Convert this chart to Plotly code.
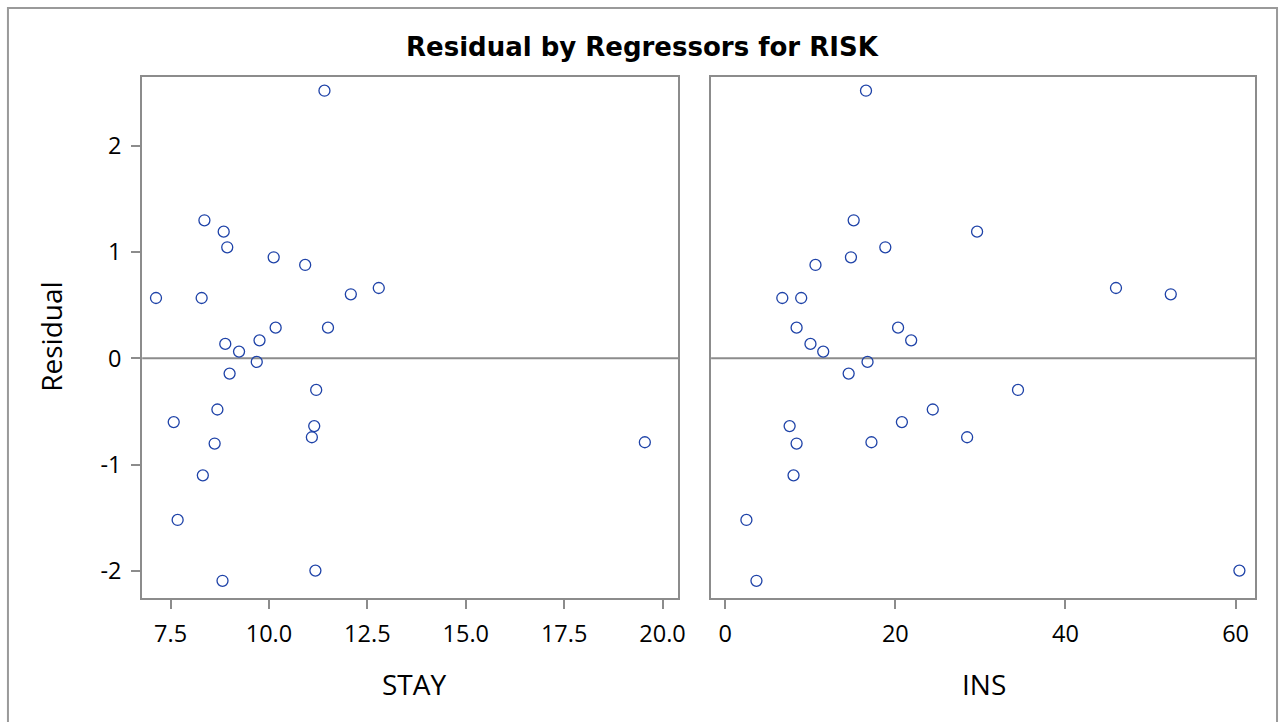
import plotly.graph_objects as go

# Data
residual = [2.517, 1.298, 1.191, 1.044, 0.950, 0.878, 0.567, 0.567, 0.602, 0.661,
            0.288, 0.288, 0.135, 0.063, 0.169, -0.034, -0.144, -0.298, -0.482, -0.600,
            -0.638, -0.743, -0.802, -0.790, -1.101, -1.521, -2.093, -1.997]
stay = [11.41, 8.36, 8.85, 8.94, 10.12, 10.92, 7.13, 8.29, 12.08, 12.79,
        10.17, 11.50, 8.89, 9.24, 9.76, 9.69, 9.00, 11.20, 8.69, 7.58,
        11.15, 11.09, 8.62, 19.55, 8.32, 7.68, 8.82, 11.18]
ins = [16.55, 15.10, 29.61, 18.82, 14.78, 10.61, 6.71, 8.93, 52.38, 45.94,
       8.39, 20.32, 10.02, 11.52, 21.86, 16.73, 14.51, 34.42, 24.40, 20.77,
       7.57, 28.44, 8.39, 17.19, 8.03, 2.49, 3.67, 60.45]

stay_ticks = [7.5, 10.0, 12.5, 15.0, 17.5, 20.0]
stay_ticktext = ["7.5", "10.0", "12.5", "15.0", "17.5", "20.0"]
ins_ticks = [0, 20, 40, 60]
ins_ticktext = ["0", "20", "40", "60"]
res_ticks = [-2, -1, 0, 1, 2]
res_ticktext = ["-2", "-1", "0", "1", "2"]

title_text = "Residual by Regressors for RISK"
ylabel = "Residual"
xlabels = ["STAY", "INS"]

W, H = 1288, 722
FONT = "Open Sans"
GRAY = "#8c8c8c"
MARKER = "#1f43a8"

def px_x(p):
    return p / W

def px_y(p):
    return 1 - p / H

fig = go.Figure()
marker = dict(symbol="circle-open", size=11, color=MARKER, line=dict(width=1.3, color=MARKER))
fig.add_trace(go.Scatter(x=stay, y=residual, mode="markers", marker=marker,
                         xaxis="x", yaxis="y", showlegend=False))
fig.add_trace(go.Scatter(x=ins, y=residual, mode="markers", marker=marker,
                         xaxis="x2", yaxis="y2", showlegend=False))

axis_common = dict(showline=True, linecolor=GRAY, linewidth=2, mirror=True,
                   ticks="outside", ticklen=9, tickwidth=2, tickcolor=GRAY,
                   showgrid=False, zeroline=False, ticklabelstandoff=5,
                   tickfont=dict(family=FONT, size=23.5, color="black"))

y_dom = [px_y(598), px_y(77)]
fig.update_layout(
    width=W, height=H,
    margin=dict(l=0, r=0, t=0, b=0),
    paper_bgcolor="white", plot_bgcolor="white",
    xaxis=dict(domain=[px_x(143), px_x(682)], range=[6.78, 20.40],
               tickvals=stay_ticks, ticktext=stay_ticktext, anchor="y", **axis_common),
    xaxis2=dict(domain=[px_x(715), px_x(1262)], range=[-1.66, 62.3],
                tickvals=ins_ticks, ticktext=ins_ticktext, anchor="y2", **axis_common),
    yaxis=dict(domain=y_dom, range=[-2.255, 2.646], tickvals=res_ticks,
               ticktext=res_ticktext, anchor="x", **axis_common),
    yaxis2=dict(domain=y_dom, range=[-2.255, 2.646], tickvals=res_ticks,
                showticklabels=False, ticks="", anchor="x2", matches="y",
                showline=True, linecolor=GRAY, linewidth=2, mirror=True,
                showgrid=False, zeroline=False),
)

shapes = []
# zero reference lines
for xr, yr in (("x domain", "y"), ("x2 domain", "y2")):
    shapes.append(dict(type="line", xref=xr, yref=yr, x0=0, x1=1, y0=0, y1=0,
                       line=dict(color=GRAY, width=2), layer="below"))
# outer border
shapes.append(dict(type="rect", xref="paper", yref="paper",
                   x0=px_x(8), x1=px_x(1284), y0=px_y(740), y1=px_y(8),
                   line=dict(color="#9a9a9a", width=2), fillcolor="rgba(0,0,0,0)"))
fig.update_layout(shapes=shapes)

annotations = [
    dict(text="<b>" + title_text + "</b>", x=px_x(646), y=px_y(47), xref="paper", yref="paper",
         showarrow=False, xanchor="center", yanchor="middle",
         font=dict(family="DejaVu Sans", size=26, color="black")),
    dict(text=ylabel, x=px_x(51), y=px_y(337), xref="paper", yref="paper",
         showarrow=False, textangle=-90, xanchor="center", yanchor="middle",
         font=dict(family=FONT, size=28, color="black")),
    dict(text=xlabels[0], x=px_x(416), y=px_y(684), xref="paper", yref="paper",
         showarrow=False, xanchor="center", yanchor="middle",
         font=dict(family=FONT, size=28, color="black")),
    dict(text=xlabels[1], x=px_x(989), y=px_y(684), xref="paper", yref="paper",
         showarrow=False, xanchor="center", yanchor="middle",
         font=dict(family=FONT, size=28, color="black")),
]
fig.update_layout(annotations=annotations)

fig.write_html("out.html")
